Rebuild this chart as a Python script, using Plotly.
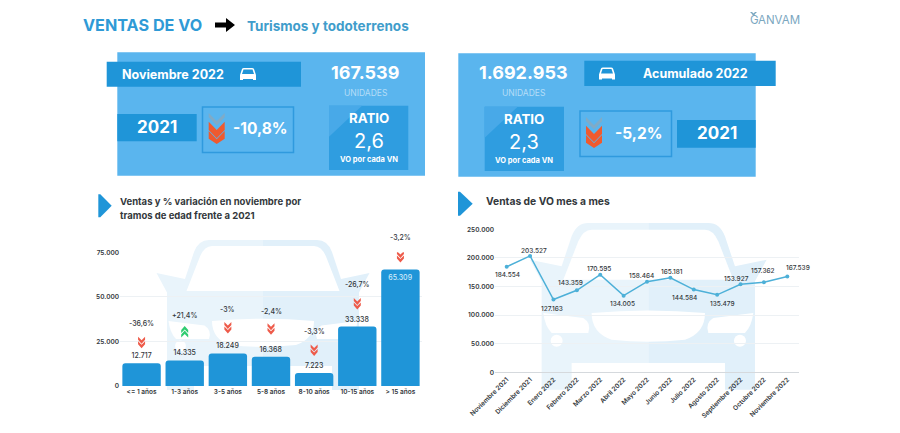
import plotly.graph_objects as go

W = 900
H = 433

# bar chart data
age_groups = ["<= 1 años", "1-3 años", "3-5 años", "5-8 años", "8-10 años", "10-15 años", "> 15 años"]
age_sales = [12717, 14335, 18249, 16368, 7223, 33338, 65309]
age_labels = ["12.717", "14.335", "18.249", "16.368", "7.223", "33.338", "65.309"]
age_change = ["-36,6%", "+21,4%", "-3%", "-2,4%", "-3,3%", "-26,7%", "-3,2%"]
age_up = [False, True, False, False, False, False, False]

# line chart data
months = ["Noviembre 2021", "Diciembre 2021", "Enero 2022", "Febrero 2022", "Marzo 2022", "Abril 2022", "Mayo 2022",
          "Junio 2022", "Julio 2022", "Agosto 2022", "Septiembre 2022", "Octubre 2022", "Noviembre 2022"]
month_sales = [184554, 203527, 127163, 143359, 170595, 134005, 158464, 165181, 144584, 135479, 153927, 157362, 167539]
month_labels = ["184.554", "203.527", "127.163", "143.359", "170.595", "134.005", "158.464", "165.181", "144.584",
                "135.479", "153.927", "157.362", "167.539"]

# pixel offsets above the bar top for the % label and the chevron
pct_shift = [40, 45, 44, 45, 42, 42, 32]
chev_shift = [20, 28, 25, 27, 22, 22, 12]
# pixel offsets of the month labels from their point
month_dx = [1, 4, -1, -6, -1, -1, -6, 2, -9, 5, -4, -1, 11]
month_dy = [-8, 5, -9, 7, 6, -8, 6, 6, -8, -9, 5, 11, 8]

BLUE_PANEL = "#5ab5ee"
BLUE_DARK = "#1f95d8"
BLUE_RATIO = "#2f9de0"
BLUE_TRI = "#48a9e8"
ORANGE = "#ef5a2f"
FONT = "Inter"
TXT = "#33383c"

shapes = []
annots = []


def fx(x):
    return x / W


def fy(y):
    return 1 - y / H


def rect(x0, y0, x1, y1, color, line=None):
    shapes.append(dict(type="rect", xref="paper", yref="paper", x0=fx(x0), x1=fx(x1), y0=fy(y0), y1=fy(y1),
                       fillcolor=color, line=dict(color=line or color, width=1.5 if line else 0), layer="below"))


def poly(pts, color, opacity=1.0, layer="below"):
    path = "M " + " L ".join(f"{fx(x):.5f},{fy(y):.5f}" for x, y in pts) + " Z"
    shapes.append(dict(type="path", xref="paper", yref="paper", path=path, fillcolor=color, opacity=opacity,
                       line=dict(width=0), layer=layer))


def curve(cmds, color, layer="below"):
    # cmds: svg like list, ("M", x, y), ("L", x, y), ("Q", cx, cy, x, y)
    out = []
    for c in cmds:
        nums = c[1:]
        parts = []
        for i in range(0, len(nums), 2):
            parts.append(f"{fx(nums[i]):.5f},{fy(nums[i + 1]):.5f}")
        out.append(c[0] + " " + " ".join(parts))
    shapes.append(dict(type="path", xref="paper", yref="paper", path=" ".join(out) + " Z", fillcolor=color,
                       line=dict(width=0), layer=layer))


def label(x, y, text, size, color="white", bold=True, anchor="center"):
    if bold:
        text = "<b>" + text + "</b>"
    if anchor == "left":
        x = x - 2   # annotation box padding
    annots.append(dict(xref="paper", yref="paper", x=fx(x), y=fy(y), text=text, showarrow=False, xanchor=anchor,
                       yanchor="middle", font=dict(family=FONT, size=size, color=color)))


def big_chevrons(cx, top, bottom):
    w = 8
    step = (bottom - top) / 3.0
    t = top
    poly([(cx - w, t), (cx, t + step * 0.8), (cx + w, t), (cx + w, t + step * 0.4), (cx, t + step * 1.2), (cx - w, t + step * 0.4)],
         "#8fa7b8", 0.7)
    t = top + step * 0.85
    poly([(cx - w, t), (cx, t + step * 0.8), (cx + w, t), (cx + w, t + step * 0.8), (cx, t + step * 1.6), (cx - w, t + step * 0.8)], ORANGE)
    t = top + step * 1.75
    poly([(cx - w, t), (cx, t + step * 0.8), (cx + w, t), (cx + w, t + step * 0.75), (cx, t + step * 1.25), (cx - w, t + step * 0.75)], ORANGE)


def car_icon(cx, cy):
    curve([("M", cx - 8, cy + 1), ("L", cx - 6, cy - 5), ("Q", cx - 5.5, cy - 6, cx - 4, cy - 6), ("L", cx + 4, cy - 6),
           ("Q", cx + 5.5, cy - 6, cx + 6, cy - 5), ("L", cx + 8, cy + 1), ("L", cx + 8, cy + 6), ("L", cx + 5, cy + 6),
           ("L", cx + 5, cy + 5), ("L", cx - 5, cy + 5), ("L", cx - 5, cy + 6), ("L", cx - 8, cy + 6)], "white")
    poly([(cx - 4.5, cy - 4.5), (cx + 4.5, cy - 4.5), (cx + 6, cy), (cx - 6, cy)], BLUE_DARK)


def ratio_box(x0, y0, x1, y1, value):
    rect(x0, y0, x1, y1, BLUE_RATIO)
    poly([(x0, y0), (x0 + 33, y0), (x0, y0 + 31)], BLUE_TRI)
    cx = (x0 + x1) / 2
    label(cx, y0 + 12.5, "RATIO", 13.3)
    label(cx, y0 + 35, value, 20, bold=False)
    label(cx, y0 + 54, "VO por cada VN", 7.5)


def car_watermark(cx, top, k):
    light = "#e9f4fb"
    tint = "#e1f0fa"

    def p(dx, dy):
        return (cx + dx / 3.0 * k, top + dy / 3.0 * k)

    def cmd(name, *vals):
        out = [name]
        for i in range(0, len(vals), 2):
            out.extend(p(vals[i], vals[i + 1]))
        return tuple(out)

    def half(s):
        return [
            cmd("M", 0, 0), cmd("L", s * 180, 0), cmd("Q", s * 215, 0, s * 230, 40), cmd("L", s * 260, 130),
            cmd("L", s * 355, 110), cmd("L", s * 320, 175), cmd("L", s * 320, 500), cmd("L", s * 230, 500),
            cmd("L", s * 230, 420), cmd("L", 0, 420)]

    curve(half(-1), light)
    curve(half(1), tint)
    # windshield
    curve([cmd("M", -170, 20), cmd("L", 170, 20), cmd("Q", 195, 20, 210, 55), cmd("L", 255, 170), cmd("L", -255, 170),
           cmd("L", -210, 55), cmd("Q", -195, 20, -170, 20)], "white")
    # grille
    curve([cmd("M", -170, 270), cmd("Q", 0, 255, 170, 270), cmd("Q", 170, 330, 110, 350), cmd("Q", 0, 362, -110, 350),
           cmd("Q", -170, 330, -170, 270)], "white")
    # headlights
    for s in (-1, 1):
        curve([cmd("M", s * 315, 270), cmd("L", s * 195, 285), cmd("Q", s * 170, 300, s * 180, 330), cmd("L", s * 290, 330),
               cmd("Q", s * 310, 310, s * 315, 270)], "white")
        x, y = p(s * 275, 353)
        r = 6 * k
        shapes.append(dict(type="circle", xref="paper", yref="paper", x0=fx(x - r), x1=fx(x + r), y0=fy(y + r), y1=fy(y - r),
                           fillcolor="white", line=dict(width=0), layer="below"))


def section_arrow(x0, y0, x1, y1):
    ym = (y0 + y1) / 2
    poly([(x0, y0), (x0 + 2, y0), (x1, ym), (x0 + 2, y1), (x0, y1)], BLUE_DARK)


# header
label(83, 25, "VENTAS DE VO", 16.2, "#2f9ad6", anchor="left")
poly([(215, 22.5), (226, 22.5), (226, 18), (235, 25), (226, 32), (226, 27.5), (215, 27.5)], "black")
label(246.5, 26, "Turismos y todoterrenos", 13.5, "#3f9dcb", anchor="left")
label(758, 20, "ANVAM", 11.5, "#7ba7bf", bold=False, anchor="left")
label(750, 20, "G", 11.5, "#7ba7bf", bold=False, anchor="left")
poly([(750, 12), (752, 12), (755, 15), (753, 15)], "#7ba7bf")
poly([(757, 12), (755, 12), (752, 15), (754, 15)], "#7ba7bf")

# left panel
rect(117.3, 52.3, 425, 175.7, BLUE_PANEL)
rect(106.7, 61.7, 301, 86.7, BLUE_DARK)
label(172.7, 74, "Noviembre 2022", 12.5)
car_icon(248, 74)
label(365, 72.5, "167.539", 18)
label(365, 92.5, "UNIDADES", 8.5, "#b4ddf7", bold=False)
rect(117.3, 114, 196.7, 141.3, BLUE_DARK)
label(157, 127, "2021", 17)
shapes.append(dict(type="rect", xref="paper", yref="paper", x0=fx(202.5), x1=fx(293.5), y0=fy(107), y1=fy(152.5),
                   line=dict(color="#2f9ade", width=1.5), layer="below"))
big_chevrons(216.7, 113, 144)
label(260, 128, "-10,8%", 15.5)
ratio_box(329, 105.7, 408.3, 170, "2,6")

# right panel
rect(458.3, 53.3, 755.7, 176.7, BLUE_PANEL)
rect(584.3, 60.7, 775.7, 86, BLUE_DARK)
label(695, 73.5, "Acumulado 2022", 12.5)
car_icon(607, 73.5)
label(523.3, 73, "1.692.953", 18)
label(523.3, 93, "UNIDADES", 8.5, "#b4ddf7", bold=False)
ratio_box(484.7, 106.7, 564, 171, "2,3")
shapes.append(dict(type="rect", xref="paper", yref="paper", x0=fx(580), x1=fx(671.5), y0=fy(111), y1=fy(156.5),
                   line=dict(color="#2f9ade", width=1.5), layer="below"))
big_chevrons(594, 117, 148)
label(638, 133, "-5,2%", 15.5)
rect(677, 120, 755.7, 147.7, BLUE_DARK)
label(716.7, 133, "2021", 17)

# section titles
section_arrow(98.3, 194.3, 111.7, 217.3)
label(120, 201.5, "Ventas y % variación en noviembre por", 9.5, TXT, anchor="left")
label(120, 215, "tramos de edad frente a 2021", 9.5, TXT, anchor="left")
section_arrow(458, 191.7, 472.7, 215.7)
label(486, 201, "Ventas de VO mes a mes", 10.3, TXT, anchor="left")

car_watermark(263, 240, 0.9)
car_watermark(648.3, 223, 1.0)

fig = go.Figure()
fig.add_trace(go.Bar(x=age_groups, y=age_sales, marker=dict(color=BLUE_DARK, line=dict(width=0)), text=age_labels,
                     textposition=["outside"] * 6 + ["inside"], insidetextanchor="end", cliponaxis=False,
                     textangle=0, constraintext="none",
                     textfont=dict(family=FONT, size=7, color=[TXT] * 6 + ["#cfeafa"], weight=500),
                     xaxis="x", yaxis="y", showlegend=False))
fig.add_trace(go.Scatter(x=months, y=month_sales, mode="lines+markers",
                         line=dict(color="#4db0d8", width=1.5), marker=dict(color="#4db0d8", size=4),
                         cliponaxis=False, xaxis="x2", yaxis="y2", showlegend=False))

for i, v in enumerate(month_sales):
    annots.append(dict(xref="x2", yref="y2", x=months[i], y=v, xshift=month_dx[i], yshift=month_dy[i], text=month_labels[i],
                       showarrow=False, font=dict(family=FONT, size=6.5, color=TXT, weight=500)))

for i, v in enumerate(age_sales):
    annots.append(dict(xref="x", yref="y", x=age_groups[i], y=v, yshift=pct_shift[i], text=age_change[i], showarrow=False,
                       font=dict(family=FONT, size=7, color=TXT, weight=500)))
    # small chevrons, anchored on the bar top and sized in pixels
    c = "#2ecc71" if age_up[i] else "#ee5b4a"
    base = chev_shift[i]
    for d in (3, -1.5):
        if age_up[i]:
            path = (f"M -3.5,{base + d - 3.5} L 0,{base + d} L 3.5,{base + d - 3.5} L 3.5,{base + d - 0.5} "
                    f"L 0,{base + d + 3.5} L -3.5,{base + d - 0.5} Z")
        else:
            path = (f"M -3.5,{base + d + 3.5} L 0,{base + d} L 3.5,{base + d + 3.5} L 3.5,{base + d + 0.5} "
                    f"L 0,{base + d - 3.5} L -3.5,{base + d + 0.5} Z")
        shapes.append(dict(type="path", xref="x", yref="y", xsizemode="pixel", ysizemode="pixel", xanchor=i, yanchor=v,
                           path=path, fillcolor=c, line=dict(width=0), layer="above"))

tick_font = dict(family=FONT, size=6.5, color=TXT, weight=600)
fig.update_layout(
    width=W, height=H, margin=dict(l=0, r=0, t=0, b=0), paper_bgcolor="white", plot_bgcolor="rgba(0,0,0,0)",
    bargap=0.11, barcornerradius=3, shapes=shapes, annotations=annots, showlegend=False,
    xaxis=dict(domain=[fx(120), fx(422)], anchor="y", tickfont=tick_font, showgrid=False, ticks="", showline=False,
               automargin=False),
    yaxis=dict(domain=[fy(386), fy(252.3)], anchor="x", range=[0, 75000], tickvals=[0, 25000, 50000, 75000],
               ticktext=["0", "25.000", "50.000", "75.000"], tickfont=tick_font, gridcolor="#edf1f4", gridwidth=1,
               zeroline=False, automargin=False),
    xaxis2=dict(domain=[fx(495), fx(799)], anchor="y2", tickfont=tick_font, tickangle=-45, showgrid=False, ticks="",
                showline=True, linecolor="#d5d9dd", linewidth=1, range=[-0.5, 12.5], automargin=False),
    yaxis2=dict(domain=[fy(372.3), fy(229.3)], anchor="x2", range=[0, 250000],
                tickvals=[0, 50000, 100000, 150000, 200000, 250000],
                ticktext=["0", "50.000", "100.000", "150.000", "200.000", "250.000"], tickfont=tick_font,
                gridcolor="#edf1f4", gridwidth=1, zeroline=False, automargin=False),
)

fig.write_html("out.html", post_script="document.body.style.margin='0';", config={"displayModeBar": False})
